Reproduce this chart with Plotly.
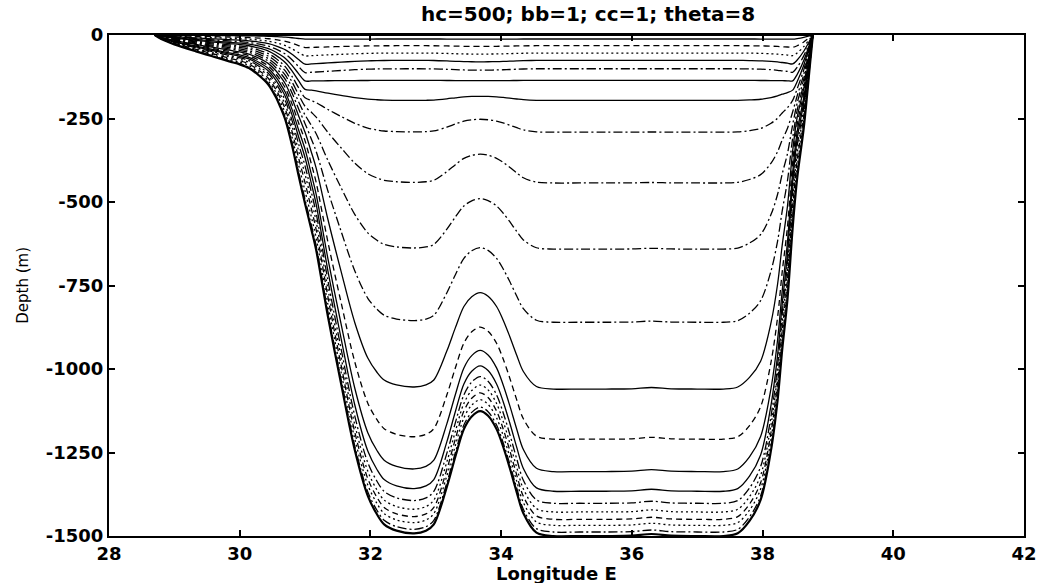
import numpy as np
import plotly.graph_objects as go

# ---- data ----
# bathymetry: longitude (deg E) and bottom depth (m, positive down)
lon = [28.70, 28.80, 29.00, 29.33, 29.60, 29.84, 30.00, 30.14, 30.30, 30.44,
       30.55, 30.62, 30.70, 30.80, 30.90, 31.00, 31.10, 31.17, 31.35, 31.55,
       31.76, 31.96, 32.10, 32.21, 32.40, 32.67, 32.85, 32.97, 33.17, 33.30,
       33.43, 33.55, 33.68, 33.80, 33.93, 34.03, 34.13, 34.24, 34.34, 34.54,
       34.80, 35.20, 35.60, 36.00, 36.30, 36.60, 37.00, 37.40, 37.62, 37.80,
       37.97, 38.13, 38.23, 38.30, 38.38, 38.46, 38.53, 38.63, 38.73, 38.77]
bottom_depth = [0, 12, 28, 49, 65, 79, 88, 99, 122, 149,
                185, 215, 255, 330, 420, 505, 585, 644, 843, 1043,
                1242, 1380, 1435, 1465, 1484, 1492, 1484, 1465, 1352, 1262,
                1180, 1142, 1126, 1140, 1180, 1232, 1295, 1370, 1432, 1490,
                1500, 1500, 1500, 1499, 1494, 1499, 1500, 1500, 1492, 1455,
                1392, 1242, 1093, 943, 793, 578, 428, 278, 79, 0]

# depth of each s-level where the bottom is 1500 m (bottom level first)
level_depth_at_1500 = [1488, 1468, 1450, 1428, 1402, 1366, 1307, 1210, 1060, 860,
                       641, 443, 291, 196, 136, 101, 76, 54, 32, 12]
level_dash = ["dashdot", "dot", "dash", "dot", "dashdot", "solid", "solid", "dash",
              "solid", "dashdot", "dashdot", "dashdot", "dashdot", "solid", "solid",
              "dashdot", "solid", "dot", "dash", "solid"]

# s-coordinate parameters (from the title)
hc = 500.0
h_ref = 1500.0
N = len(level_depth_at_1500)

# ---- build the figure ----
h = np.array(bottom_depth, dtype=float)
hc_eff = np.minimum(hc, h)

dash_map = {"solid": "solid", "dash": "6px,4px", "dot": "2px,3px",
            "dashdot": "9px,3px,2px,3px"}

fig = go.Figure()
for k in range(N):
    s = (k + 0.5) / N - 1.0
    C = (-level_depth_at_1500[k] - hc * s) / (h_ref - hc)
    z = hc_eff * s + (h - hc_eff) * C
    fig.add_trace(go.Scatter(x=lon, y=z, mode="lines",
                             line=dict(color="black", width=1.3,
                                       dash=dash_map[level_dash[k]], shape="spline",
                                       smoothing=0.9),
                             hoverinfo="skip", showlegend=False))

# free surface and bottom
fig.add_trace(go.Scatter(x=lon, y=[0.0] * len(lon), mode="lines",
                         line=dict(color="black", width=2),
                         hoverinfo="skip", showlegend=False))
fig.add_trace(go.Scatter(x=lon, y=-h, mode="lines",
                         line=dict(color="black", width=2.2, shape="spline", smoothing=0.9),
                         hoverinfo="skip", showlegend=False))

x_ticks = [28, 30, 32, 34, 36, 38, 40, 42]
y_ticks = [0, -250, -500, -750, -1000, -1250, -1500]

tick_font = dict(family="DejaVu Sans", size=18, color="black", weight="bold")

L, R, T, B = 109, 1032, 35, 536


def px_x(v):
    return (v - L) / (R - L)


def px_y(v):
    return (B - v) / (B - T)


fig.update_layout(
    width=1049, height=583,
    margin=dict(l=L, r=1049 - R, t=T, b=583 - B),
    paper_bgcolor="white", plot_bgcolor="white",
    xaxis=dict(range=[28, 42], tickvals=x_ticks, ticktext=[str(v) for v in x_ticks],
               ticks="inside", ticklen=6, tickwidth=1.5, tickcolor="black",
               showline=True, linecolor="black", linewidth=2, mirror="ticks",
               showgrid=False, zeroline=False, tickfont=tick_font),
    yaxis=dict(range=[-1500, 0], tickvals=y_ticks, ticktext=[str(v) for v in y_ticks],
               ticks="inside", ticklen=6, tickwidth=1.5, tickcolor="black",
               showline=True, linecolor="black", linewidth=2, mirror="ticks",
               showgrid=False, zeroline=False, tickfont=tick_font),
    annotations=[
        dict(text="hc=500; bb=1; cc=1; theta=8", x=px_x(592), y=px_y(14),
             xref="paper", yref="paper", xanchor="center", yanchor="middle",
             showarrow=False,
             font=dict(family="DejaVu Sans", size=20, color="black", weight="bold")),
        dict(text="Longitude E", x=px_x(560), y=px_y(573),
             xref="paper", yref="paper", xanchor="center", yanchor="middle",
             showarrow=False,
             font=dict(family="DejaVu Sans", size=18, color="black", weight="bold")),
        dict(text="Depth (m)", x=px_x(22), y=px_y(285),
             xref="paper", yref="paper", xanchor="center", yanchor="middle",
             showarrow=False, textangle=-90,
             font=dict(family="DejaVu Sans", size=15, color="black")),
    ],
)

fig.write_html("out.html")
